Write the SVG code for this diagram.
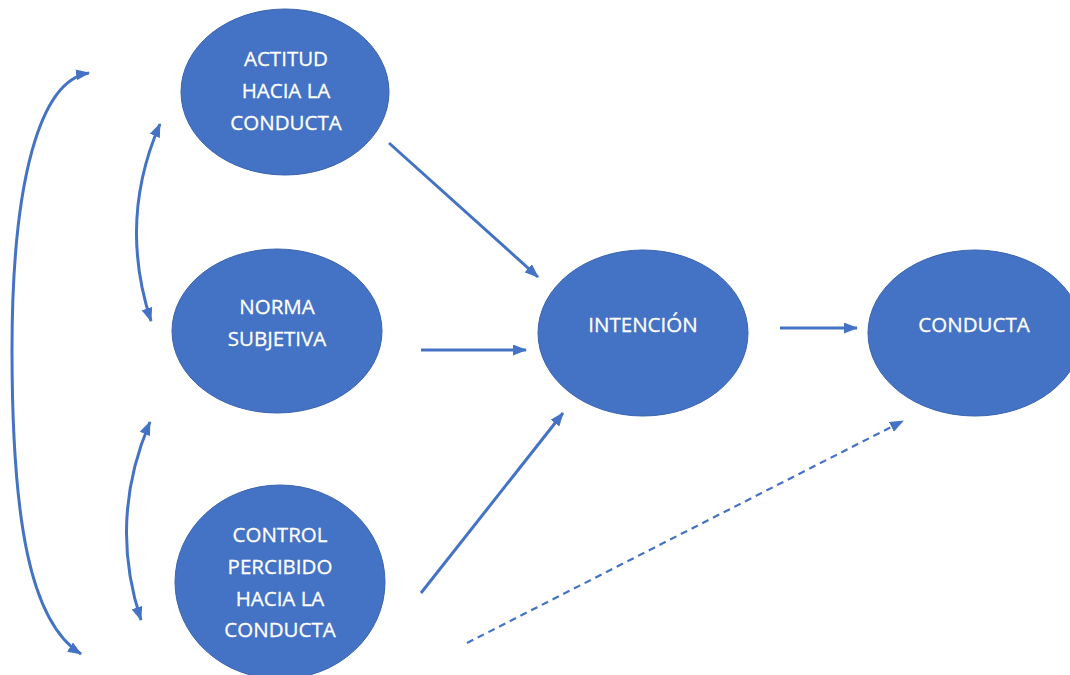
<svg xmlns="http://www.w3.org/2000/svg" width="1070" height="675" viewBox="0 0 1070 675">
<style>
.node ellipse{fill:#4472C4;stroke:#3A64AE;stroke-width:1}
.node text{fill:#FFFFFF;font-family:"Open Sans","Liberation Sans",sans-serif;font-size:20.5px;text-anchor:middle;stroke:#FFFFFF;stroke-width:0.3}
.conn path{fill:none;stroke:#4472C4;stroke-width:3}
.conn .dash{stroke-width:2.2;stroke-dasharray:7 5}
</style>
<defs>
<marker id="ah" viewBox="0 0 14 11" refX="13" refY="5.5" markerWidth="14" markerHeight="11" markerUnits="userSpaceOnUse" orient="auto-start-reverse">
<path d="M0,0 L14,5.5 L0,11 Z" fill="#4472C4"/>
</marker>
</defs>
<rect width="1070" height="675" fill="#FFFFFF"/>
<g id="n-actitud" class="node">
<ellipse cx="285" cy="92" rx="104" ry="83"/>
<text x="286" y="66">ACTITUD</text>
<text x="286" y="98">HACIA LA</text>
<text x="286" y="130">CONDUCTA</text>
</g>
<g id="n-norma" class="node">
<ellipse cx="277" cy="331" rx="105" ry="82"/>
<text x="277" y="314">NORMA</text>
<text x="277" y="346">SUBJETIVA</text>
</g>
<g id="n-control" class="node">
<ellipse cx="280" cy="582" rx="105" ry="97"/>
<text x="280" y="542">CONTROL</text>
<text x="280" y="574">PERCIBIDO</text>
<text x="280" y="606">HACIA LA</text>
<text x="280" y="637">CONDUCTA</text>
</g>
<g id="n-intencion" class="node">
<ellipse cx="643" cy="333" rx="105" ry="83"/>
<text x="643" y="332">INTENCIÓN</text>
</g>
<g id="n-conducta" class="node">
<ellipse cx="975" cy="333" rx="107" ry="83"/>
<text x="974" y="332">CONDUCTA</text>
</g>
<g id="connectors" class="conn">
<path d="M389,143 L538,277" marker-end="url(#ah)"/>
<path d="M421,350 L526,350" marker-end="url(#ah)"/>
<path d="M421,593 L563,413" marker-end="url(#ah)"/>
<path d="M780,328 L857,328" marker-end="url(#ah)"/>
<path class="dash" d="M467,643 L903,421" marker-end="url(#ah)"/>
<path d="M89,73 C40,80 12,180 12,350 C12,520 30,622 81,654" marker-start="url(#ah)" marker-end="url(#ah)"/>
<path d="M160,124 Q118,220 151,321" marker-start="url(#ah)" marker-end="url(#ah)"/>
<path d="M150,422 Q108,520 141,620" marker-start="url(#ah)" marker-end="url(#ah)"/>
</g>
</svg>
